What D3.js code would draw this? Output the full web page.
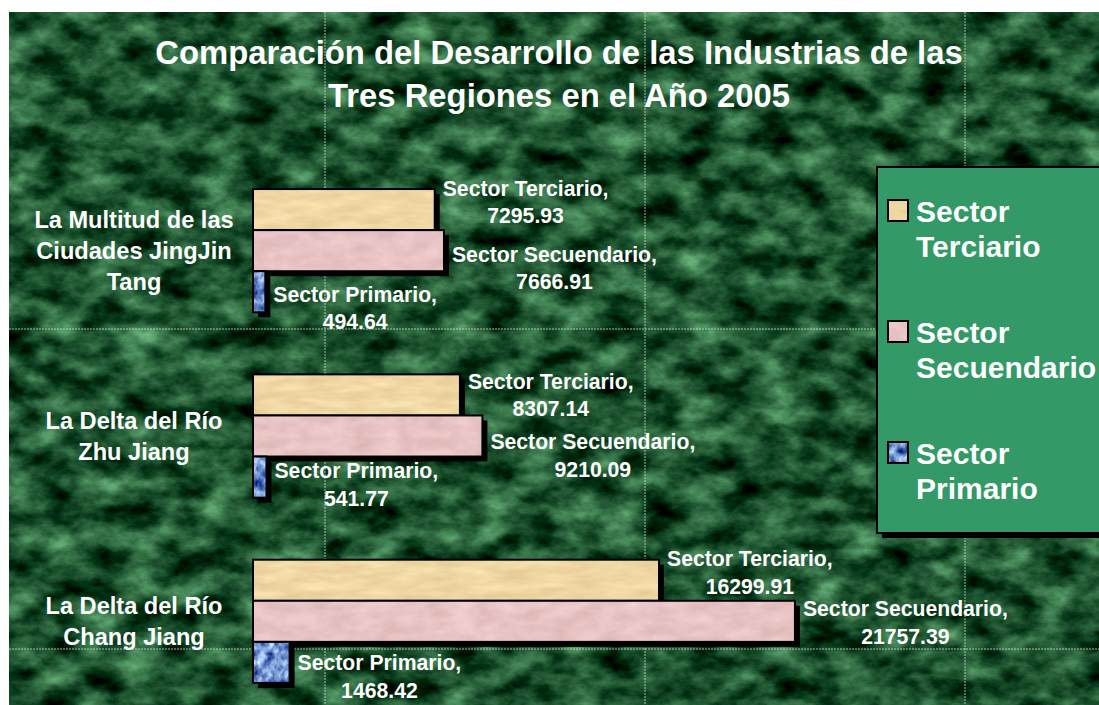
<!DOCTYPE html>
<html>
<head>
<meta charset="utf-8">
<script src="https://cdn.jsdelivr.net/npm/d3@7"></script>
<style>
  body { margin: 0; background: #fff; }
  svg { display: block; font-family: "Liberation Sans", Arial, sans-serif; font-weight: bold; }
</style>
</head>
<body>
<svg id="chart" width="1099" height="705"></svg>
<script>
// data
var regions = ["La Multitud de las Ciudades JingJin Tang", "La Delta del Río Zhu Jiang", "La Delta del Río Chang Jiang"];
var regionLines = [["La Multitud de las", "Ciudades JingJin", "Tang"], ["La Delta del Río", "Zhu Jiang"], ["La Delta del Río", "Chang Jiang"]];
var seriesNames = ["Sector Terciario", "Sector Secuendario", "Sector Primario"];
var terciario = [7295.93, 8307.14, 16299.91];
var secuendario = [7666.91, 9210.09, 21757.39];
var primario = [494.64, 541.77, 1468.42];
var titleLines = ["Comparación del Desarrollo de las Industrias de las", "Tres Regiones en el Año 2005"];

var values = [terciario, secuendario, primario];
var texIds = ["tex-tan", "tex-pink", "tex-blue"];

// manual nudges of the data labels (like dragged labels in the original)
var labelNudge = [[-8, 17, 16], [0, 19, 7], [-8, 1, 14]];

var W = 1099, H = 705;
var svg = d3.select("#chart");
var defs = svg.append("defs");

// texture filter: noise mapped to a colour ramp, clipped to the shape
function texture(id, freq, oct, seed, rows, clip) {
  var f = defs.append("filter").attr("id", id)
      .attr("x", 0).attr("y", 0).attr("width", 1).attr("height", 1)
      .attr("color-interpolation-filters", "sRGB");
  f.append("feTurbulence").attr("type", "fractalNoise")
      .attr("baseFrequency", freq).attr("numOctaves", oct).attr("seed", seed).attr("result", "n");
  f.append("feColorMatrix").attr("in", "n").attr("type", "matrix")
      .attr("values", rows.join(" ") + " 0 0 0 0 1").attr("result", "c");
  if (clip) f.append("feComposite").attr("in", "c").attr("in2", "SourceGraphic").attr("operator", "in");
}
texture("marble", "0.025 0.04", 6, 7, [
  "0.75 0 0 0 -0.26",
  "0.95 0 0 0 -0.15",
  "0.75 0 0 0 -0.19"], false);
texture("tex-tan", "0.03 0.12", 3, 2, [
  "0.12 0 0 0 0.88",
  "0.15 0 0 0 0.77",
  "0.18 0 0 0 0.55"], true);
texture("tex-pink", "0.04 0.08", 3, 4, [
  "0.12 0 0 0 0.85",
  "0.15 0 0 0 0.69",
  "0.15 0 0 0 0.69"], true);
texture("tex-blue", "0.12 0.09", 3, 9, [
  "1.4 0 0 0 -0.27",
  "1.4 0 0 0 -0.14",
  "1.0 0 0 0 0.3"], true);

// background
svg.append("rect").attr("x", 9).attr("y", 12).attr("width", W - 9).attr("height", H - 12)
    .attr("fill", "#2a6a3e").attr("filter", "url(#marble)");

// texture tile seams
var seams = svg.append("g").attr("stroke", "#d8e8d8").attr("stroke-opacity", 0.5)
    .attr("stroke-width", 1.5).attr("stroke-dasharray", "2,1");
d3.range(325, W, 320).forEach(function (sx) {
  seams.append("line").attr("x1", sx).attr("x2", sx).attr("y1", 12).attr("y2", H);
});
d3.range(329, H, 320).forEach(function (sy) {
  seams.append("line").attr("x1", 9).attr("x2", W).attr("y1", sy).attr("y2", sy);
});

// scales
var x = d3.scaleLinear().domain([0, 22000]).range([253, 801]);
var y = d3.scaleBand().domain(regions).range([158, 714]).paddingInner(0.335).paddingOuter(0.1675);
var ySub = d3.scaleBand().domain(seriesNames).range([0, y.bandwidth()]);

// title
svg.append("g").selectAll("text").data(titleLines).join("text")
    .attr("x", 559).attr("y", function (d, i) { return 64 + i * 43; })
    .attr("text-anchor", "middle").attr("fill", "#fff").attr("font-size", 32.8)
    .text(function (d) { return d; });

// category labels
var cat = svg.append("g");
regions.forEach(function (r, i) {
  var lines = regionLines[i];
  var cy = y(r) + y.bandwidth() / 2;
  cat.selectAll(null).data(lines).enter().append("text")
      .attr("x", 134)
      .attr("y", function (d, k) { return cy + (k - (lines.length - 1) / 2) * 31 + 8; })
      .attr("text-anchor", "middle").attr("fill", "#fff").attr("font-size", 23.6)
      .text(function (d) { return d; });
});

// bars
var bars = svg.append("g");
regions.forEach(function (r, i) {
  seriesNames.forEach(function (s, j) {
    var v = values[j][i];
    var by = y(r) + ySub(s), bh = ySub.bandwidth(), bw = x(v) - x(0);
    bars.append("rect").attr("x", x(0) + 5).attr("y", by + 5).attr("width", bw).attr("height", bh).attr("fill", "#000");
    bars.append("rect").attr("x", x(0)).attr("y", by).attr("width", bw).attr("height", bh)
        .attr("fill", "#ccc").attr("filter", "url(#" + texIds[j] + ")");
    bars.append("rect").attr("x", x(0)).attr("y", by).attr("width", bw).attr("height", bh)
        .attr("fill", "none").attr("stroke", "#000").attr("stroke-width", 2);
  });
});

// data labels
var labels = svg.append("g").attr("fill", "#fff").attr("font-size", 21.2);
regions.forEach(function (r, i) {
  seriesNames.forEach(function (s, j) {
    var v = values[j][i];
    var cy = y(r) + ySub(s) + ySub.bandwidth() / 2 + labelNudge[i][j];
    var t1 = labels.append("text").attr("y", cy - 6).text(s + ",");
    var t2 = labels.append("text").attr("y", cy + 21.5).text(d3.format(".2f")(v));
    var w = Math.max(t1.node().getComputedTextLength(), t2.node().getComputedTextLength());
    var mid = x(v) + 8 + w / 2;
    t1.attr("x", mid).attr("text-anchor", "middle");
    t2.attr("x", mid).attr("text-anchor", "middle");
  });
});

// legend
var lg = svg.append("g");
lg.append("rect").attr("x", 882).attr("y", 172).attr("width", 240).attr("height", 366).attr("fill", "#000");
lg.append("rect").attr("x", 877).attr("y", 167).attr("width", 240).attr("height", 366)
    .attr("fill", "#339966").attr("stroke", "#000").attr("stroke-width", 2);
seriesNames.forEach(function (s, j) {
  var ly = 200 + j * 121;
  lg.append("rect").attr("x", 888).attr("y", ly).attr("width", 20).attr("height", 21)
      .attr("fill", "#ccc").attr("filter", "url(#" + texIds[j] + ")");
  lg.append("rect").attr("x", 888).attr("y", ly).attr("width", 20).attr("height", 21)
      .attr("fill", "none").attr("stroke", "#000").attr("stroke-width", 2);
  var words = s.split(" ");
  lg.selectAll(null).data(words).enter().append("text")
      .attr("x", 916).attr("y", function (d, k) { return ly + 22 + k * 35; })
      .attr("fill", "#fff").attr("font-size", 30)
      .text(function (d) { return d; });
});
</script>
</body>
</html>
